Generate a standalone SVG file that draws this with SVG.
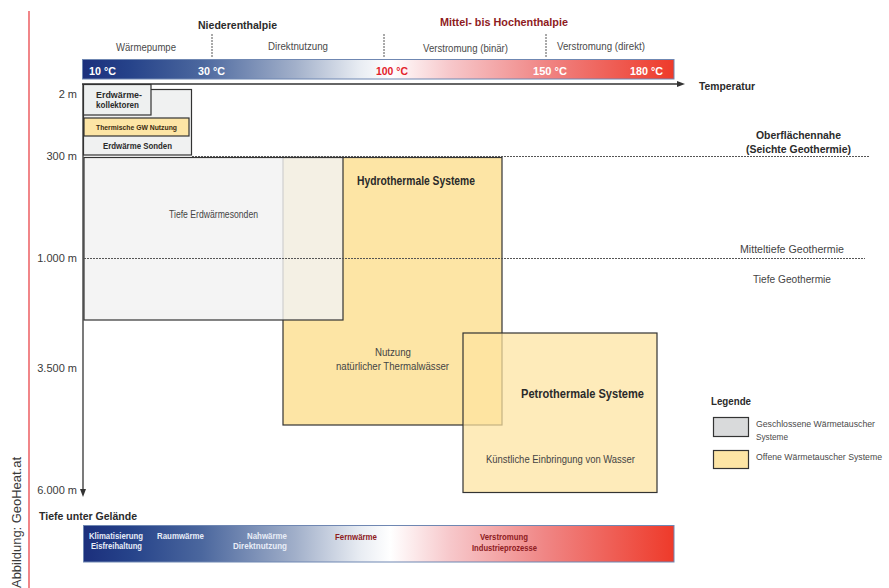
<svg xmlns="http://www.w3.org/2000/svg" width="889" height="588" viewBox="0 0 889 588">
<style>
  text { font-family: "Liberation Sans", Arial, sans-serif; fill: #3a3a3a; }
  .hdr { font-size: 11.5px; font-weight: bold; fill: #2b2b2b; }
  .sub { font-size: 10px; fill: #4a4a4a; }
  .leg { font-size: 8.7px; fill: #4a4a4a; }
  .bar { font-size: 10.5px; font-weight: bold; fill: #ffffff; }
  .depth { font-size: 11px; fill: #3a3a3a; text-anchor: end; }
  .small { font-size: 8.5px; font-weight: bold; fill: #2b2b2b; }
  .lbl { font-size: 10.5px; fill: #444; }
  .ttl { font-size: 12px; font-weight: bold; fill: #2a2a2a; }
  .bot { font-size: 8.5px; font-weight: bold; fill: #e8edf7; }
  .red { fill: #8e1b22; }
  .dash { stroke: #555; stroke-width: 1; stroke-dasharray: 2 1; fill: none; }
  .box { stroke: #333; stroke-width: 1.2; }
  .axis { stroke: #333; stroke-width: 1.3; fill: none; }
</style>
<defs>
  <linearGradient id="gTemp" x1="0" x2="1" y1="0" y2="0">
    <stop offset="0" stop-color="#1b2f7c"/>
    <stop offset="0.08" stop-color="#26438a"/>
    <stop offset="0.2" stop-color="#4b679e"/>
    <stop offset="0.36" stop-color="#a2b0ca"/>
    <stop offset="0.47" stop-color="#e9edf3"/>
    <stop offset="0.52" stop-color="#ffffff"/>
    <stop offset="0.62" stop-color="#f7c8cb"/>
    <stop offset="0.78" stop-color="#f08685"/>
    <stop offset="1" stop-color="#ee3a2a"/>
  </linearGradient>
  <marker id="arr" viewBox="0 0 8 6" refX="1" refY="3" markerWidth="8" markerHeight="6" markerUnits="userSpaceOnUse" orient="auto">
    <path d="M0,0 L8,3 L0,6 z" fill="#333"/>
  </marker>
</defs>

<rect x="0" y="0" width="889" height="588" fill="#ffffff"/>

<g id="credit">
  <line x1="29" y1="11" x2="29" y2="588" stroke="#e8343a" stroke-width="1.2"/>
  <text transform="translate(21,588) rotate(-90)" font-size="13" fill="#555" textLength="131" lengthAdjust="spacingAndGlyphs">Abbildung: GeoHeat.at</text>
</g>

<g id="header">
  <text x="198" y="29" class="hdr" textLength="79" lengthAdjust="spacingAndGlyphs">Niederenthalpie</text>
  <text x="440" y="26" class="hdr red" textLength="128" lengthAdjust="spacingAndGlyphs">Mittel- bis Hochenthalpie</text>
  <text x="116" y="51" class="sub" textLength="60" lengthAdjust="spacingAndGlyphs">Wärmepumpe</text>
  <text x="268" y="50" class="sub" textLength="60" lengthAdjust="spacingAndGlyphs">Direktnutzung</text>
  <text x="423" y="52" class="sub" textLength="85" lengthAdjust="spacingAndGlyphs">Verstromung (binär)</text>
  <text x="557" y="50" class="sub" textLength="88" lengthAdjust="spacingAndGlyphs">Verstromung (direkt)</text>
  <line x1="212" y1="34" x2="212" y2="58" class="dash"/>
  <line x1="384" y1="34" x2="384" y2="58" class="dash"/>
  <line x1="546" y1="34" x2="546" y2="58" class="dash"/>
</g>

<g id="temperature-bar">
  <rect x="82.5" y="59.5" width="591.5" height="19.5" fill="url(#gTemp)" stroke="#6f87b2" stroke-width="1"/>
  <text x="89" y="75" class="bar" textLength="27" lengthAdjust="spacingAndGlyphs">10 °C</text>
  <text x="198" y="75" class="bar" textLength="27" lengthAdjust="spacingAndGlyphs">30 °C</text>
  <text x="376" y="75" class="bar" style="fill:#e3212b" textLength="32" lengthAdjust="spacingAndGlyphs">100 °C</text>
  <text x="533" y="75" class="bar" textLength="34" lengthAdjust="spacingAndGlyphs">150 °C</text>
  <text x="630" y="75" class="bar" textLength="33" lengthAdjust="spacingAndGlyphs">180 °C</text>
  <text x="699" y="90" class="hdr" textLength="56" lengthAdjust="spacingAndGlyphs">Temperatur</text>
</g>

<g id="depth-labels">
  <text x="77" y="98" class="depth">2 m</text>
  <text x="77" y="160" class="depth">300 m</text>
  <text x="77" y="262" class="depth">1.000 m</text>
  <text x="77" y="372" class="depth">3.500 m</text>
  <text x="77" y="494" class="depth">6.000 m</text>
  <text x="39" y="520" class="hdr" textLength="98" lengthAdjust="spacingAndGlyphs">Tiefe unter Gelände</text>
</g>

<g id="erdwaerme-sonden">
  <rect x="83.5" y="89.5" width="108" height="65.5" fill="#f0f1f1" class="box"/>
  <text x="103" y="149" class="small" textLength="69" lengthAdjust="spacingAndGlyphs">Erdwärme Sonden</text>
</g>
<g id="erdwaerme-kollektoren">
  <rect x="83.5" y="84.5" width="67.5" height="30.5" fill="#eef0f0" class="box"/>
  <text x="96" y="98" class="small" textLength="46" lengthAdjust="spacingAndGlyphs">Erdwärme-</text>
  <text x="96" y="108" class="small" textLength="43" lengthAdjust="spacingAndGlyphs">kollektoren</text>
</g>
<g id="thermische-gw">
  <rect x="84" y="118" width="105" height="18" fill="#fde5a5" class="box"/>
  <text x="96" y="130" class="small" style="font-size:7.5px;fill:#3a2a10" textLength="81" lengthAdjust="spacingAndGlyphs">Thermische GW Nutzung</text>
</g>

<g id="hydrothermal">
  <rect x="283" y="157.5" width="219" height="267.5" fill="#fde5a5" class="box"/>
  <text x="357" y="185" class="ttl" textLength="118" lengthAdjust="spacingAndGlyphs">Hydrothermale Systeme</text>
  <text x="375" y="356" class="lbl" textLength="36" lengthAdjust="spacingAndGlyphs">Nutzung</text>
  <text x="336" y="370" class="lbl" textLength="113" lengthAdjust="spacingAndGlyphs">natürlicher Thermalwässer</text>
</g>

<g id="tiefe-erdwaermesonden">
  <rect x="84" y="157.5" width="259" height="162.5" fill="#f2f2f2" fill-opacity="0.82" class="box"/>
  <text x="169" y="218" class="lbl" textLength="89" lengthAdjust="spacingAndGlyphs">Tiefe Erdwärmesonden</text>
</g>

<g id="petrothermal">
  <rect x="463" y="333" width="194" height="159.5" fill="#fde3a0" fill-opacity="0.72" class="box"/>
  <text x="521" y="398" class="ttl" style="font-size:12.5px" textLength="123" lengthAdjust="spacingAndGlyphs">Petrothermale Systeme</text>
  <text x="486" y="463" class="lbl" textLength="149" lengthAdjust="spacingAndGlyphs">Künstliche Einbringung von Wasser</text>
</g>

<g id="zone-lines">
  <line x1="192" y1="156.5" x2="870" y2="156.5" class="dash"/>
  <line x1="84" y1="258.5" x2="865" y2="258.5" class="dash"/>
  <text x="756" y="139" class="hdr" style="font-size:11px" textLength="85" lengthAdjust="spacingAndGlyphs">Oberflächennahe</text>
  <text x="746" y="153" class="hdr" textLength="105" lengthAdjust="spacingAndGlyphs">(Seichte Geothermie)</text>
  <text x="740" y="253" class="lbl" textLength="104" lengthAdjust="spacingAndGlyphs">Mitteltiefe Geothermie</text>
  <text x="753" y="283" class="lbl" textLength="78" lengthAdjust="spacingAndGlyphs">Tiefe Geothermie</text>
</g>

<g id="legend">
  <text x="711" y="405" class="hdr" style="font-size:11px" textLength="40" lengthAdjust="spacingAndGlyphs">Legende</text>
  <rect x="713.5" y="417.5" width="35" height="19" fill="#d9dadb" class="box"/>
  <text x="756" y="427" class="leg" textLength="119" lengthAdjust="spacingAndGlyphs">Geschlossene Wärmetauscher</text>
  <text x="756" y="440" class="leg" textLength="32" lengthAdjust="spacingAndGlyphs">Systeme</text>
  <rect x="713.5" y="450.5" width="35" height="18" fill="#fde5a5" class="box"/>
  <text x="756" y="460" class="leg" textLength="126" lengthAdjust="spacingAndGlyphs">Offene Wärmetauscher Systeme</text>
</g>

<g id="usage-bar">
  <rect x="83.5" y="525.5" width="590.5" height="36.5" fill="url(#gTemp)" stroke="#6f87b2" stroke-width="1"/>
  <text x="89" y="539" class="bot" textLength="54" lengthAdjust="spacingAndGlyphs">Klimatisierung</text>
  <text x="91" y="549" class="bot" textLength="51" lengthAdjust="spacingAndGlyphs">Eisfreihaltung</text>
  <text x="157" y="539" class="bot" textLength="47" lengthAdjust="spacingAndGlyphs">Raumwärme</text>
  <text x="247" y="539" class="bot" textLength="40" lengthAdjust="spacingAndGlyphs">Nahwärme</text>
  <text x="233" y="549" class="bot" textLength="54" lengthAdjust="spacingAndGlyphs">Direktnutzung</text>
  <text x="335" y="540" class="bot red" textLength="42" lengthAdjust="spacingAndGlyphs">Fernwärme</text>
  <text x="480" y="540" class="bot red" textLength="48" lengthAdjust="spacingAndGlyphs">Verstromung</text>
  <text x="472" y="551" class="bot red" textLength="65" lengthAdjust="spacingAndGlyphs">Industrieprozesse</text>
</g>

<g id="connectors">
  <line x1="82" y1="84" x2="678" y2="84" class="axis" marker-end="url(#arr)"/>
  <line x1="83" y1="84" x2="83" y2="490" class="axis" marker-end="url(#arr)"/>
</g>
</svg>
